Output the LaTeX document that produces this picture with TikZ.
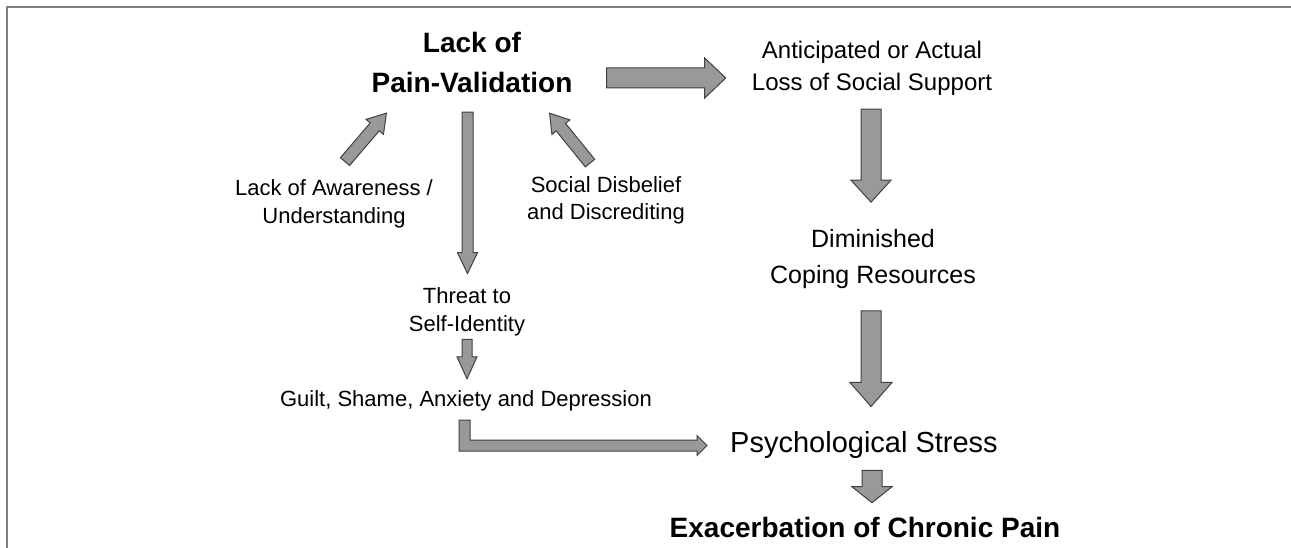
\documentclass[tikz,border=0pt]{standalone}
\usepackage{fontspec}
\setmainfont{Liberation Sans}
\usepackage{tikz}
\usetikzlibrary{calc}
\usepackage{xcolor}
\definecolor{arrowfill}{gray}{0.6}
\definecolor{arrowline}{gray}{0.25}
\definecolor{framegray}{gray}{0.5}
\tikzset{
	block arrow/.style={draw=arrowline, fill=arrowfill, line width=1pt, line join=miter},
	head text/.style={inner sep=0pt, align=center, font=\fontsize{28}{40}\selectfont\bfseries},
	side text/.style={inner sep=0pt, align=center, font=\fontsize{22}{27.5}\selectfont},
	mid text/.style={inner sep=0pt, align=center, font=\fontsize{24}{32}\selectfont},
	big text/.style={inner sep=0pt, align=center, font=\fontsize{25}{36}\selectfont}
}
\newcommand{\fatarrow}[5]{%
	\coordinate (fa-s) at (#1);
	\coordinate (fa-e) at (#2);
	\coordinate (fa-b) at ($(fa-e)!#5!(fa-s)$);
	\draw[block arrow] ($(fa-s)!#3!90:(fa-e)$) -- ($(fa-b)!#3!90:(fa-e)$) -- ($(fa-b)!#4!90:(fa-e)$) -- (fa-e)
		-- ($(fa-b)!#4!-90:(fa-e)$) -- ($(fa-b)!#3!-90:(fa-e)$) -- ($(fa-s)!#3!-90:(fa-e)$) -- cycle;
}

\begin{document}
\begin{tikzpicture}[x=1pt, y=-1pt]
	\useasboundingbox (0,0) rectangle (1291,548);
	\draw[framegray, line width=1.5pt] (7,548) -- (7,7) -- (1291,7);

	\node[head text] (pv) at (472,62.7) {Lack of\\Pain-Validation};
	\node[mid text] (loss) at (872,67.8) {Anticipated or Actual\\Loss of Social Support};
	\node[side text] (aware) at (334,203.8) {Lack of Awareness /\\Understanding};
	\node[side text] (disbelief) at (606,200.3) {Social Disbelief\\and Discrediting};
	\node[side text] (threat) at (467,311.8) {Threat to\\Self-Identity};
	\node[side text] (guilt) at (466,401.3) {Guilt, Shame, Anxiety and Depression};
	\node[big text] (coping) at (873,259) {Diminished\\Coping Resources};
	\node[big text, font=\fontsize{29}{36}\selectfont] (stress) at (864,444.7) {Psychological Stress};
	\node[head text] (chronic) at (865,527.8) {Exacerbation of Chronic Pain};

	\fatarrow{$(pv.east)+(34,15.3)$}{$(loss.west)+(-26,10.2)$}{10pt}{20pt}{21pt}
	\fatarrow{$(pv.south -| threat.north)+(0.5,19)$}{$(threat.north)+(0.5,-14)$}{5.5pt}{10pt}{21pt}
	\fatarrow{$(aware.north)+(11,-18)$}{$(pv.south west)+(15,20)$}{6pt}{11.5pt}{18pt}
	\fatarrow{$(disbelief.north)+(-16,-13)$}{$(pv.south east)+(-23,20)$}{6pt}{11.5pt}{18pt}
	\fatarrow{$(threat.south)+(0,3.4)$}{$(guilt.north -| threat.south)+(0,-12)$}{5pt}{10pt}{22pt}
	\fatarrow{$(loss.south)+(-1,14)$}{$(coping.north -| loss.south)+(-1,-27)$}{10pt}{20pt}{22pt}
	\fatarrow{$(coping.south)+(-2,22)$}{$(stress.north -| coping.south)+(-2,-24.5)$}{10pt}{21pt}{24pt}
	\fatarrow{$(stress.south)+(8,12)$}{$(chronic.north)+(7,-14.6)$}{10pt}{20pt}{16pt}

	\coordinate (g-top) at ($(guilt.south)+(-1.5,8.4)$);
	\coordinate (g-tip) at ($(stress.west)+(-23,0.8)$);
	\draw[block arrow] ($(g-top)+(-5.5,0)$) -- ($(g-top)+(5.5,0)$) -- ($(g-top |- g-tip)+(5.5,-5.5)$)
		-- ($(g-tip)+(-10,-5.5)$) -- ($(g-tip)+(-10,-10)$) -- (g-tip) -- ($(g-tip)+(-10,10)$)
		-- ($(g-tip)+(-10,5.5)$) -- ($(g-top |- g-tip)+(-5.5,5.5)$) -- cycle;
\end{tikzpicture}
\end{document}
